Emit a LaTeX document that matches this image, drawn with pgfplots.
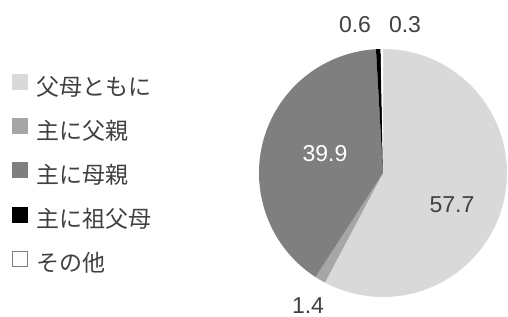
\documentclass[border=0pt]{standalone}
\usepackage{pgfplots}
\pgfplotsset{compat=1.18}
\usepackage{pgfplotstable}
\usepackage{fontspec}
\setmainfont{Liberation Sans}
\newfontfamily\jp{Noto Sans CJK JP}
\definecolor{cA}{HTML}{D9D9D9}
\definecolor{cB}{HTML}{A6A6A6}
\definecolor{cC}{HTML}{7F7F7F}
\definecolor{cD}{HTML}{000000}
\definecolor{cE}{HTML}{FFFFFF}
\definecolor{txt}{HTML}{404040}
\pgfplotstableread{
value color
57.7 cA
1.4 cB
39.9 cC
0.6 cD
0.3 cE
}\piedata
\begin{document}
\begin{tikzpicture}
\path[use as bounding box] (0,0) rectangle (508bp,317bp);
\pgfplotstablegetrowsof{\piedata}
\pgfmathtruncatemacro\lastrow{\pgfplotsretval-1}
\def\total{0}
\pgfplotsforeachungrouped \i in {0,...,\lastrow}{%
  \pgfplotstablegetelem{\i}{value}\of\piedata
  \pgfmathsetmacro\total{\total+\pgfplotsretval}}
\pgfmathsetmacro\degper{360/\total}
\begin{axis}[
  x=1bp, y=1bp, xmin=0, xmax=508, ymin=0, ymax=317,
  anchor=origin, at={(0,0)},
  hide axis, clip=false,
  legend cell align=left,
  legend image code/.code={\draw[#1] (0bp,1bp) rectangle (15bp,16bp);},
  legend style={at={(axis cs:12,243)}, anchor=north west, draw=none, fill=none,
    inner sep=0pt, outer sep=0pt, row sep=17bp, column sep=9bp,
    nodes={inner sep=0pt, text height=16bp, text depth=6bp,
      font=\jp\fontsize{23bp}{26bp}\selectfont, text=txt}},
]
\def\cum{0}
\pgfplotsforeachungrouped \i in {0,...,\lastrow}{%
  \pgfplotstablegetelem{\i}{value}\of\piedata \let\sliceval\pgfplotsretval
  \pgfplotstablegetelem{\i}{color}\of\piedata \let\slicecol\pgfplotsretval
  \pgfmathsetmacro\angA{90-\degper*\cum}
  \pgfmathsetmacro\angB{90-\degper*(\cum+\sliceval)}
  \pgfmathsetmacro\sx{383+124*cos(\angA)}
  \pgfmathsetmacro\sy{144+124*sin(\angA)}
  \edef\tmp{\noexpand\fill[\slicecol] (axis cs:383,144) -- (axis cs:\sx,\sy) arc[start angle=\angA, end angle=\angB, radius=124bp] -- cycle;}
  \tmp
  \pgfmathsetmacro\cum{\cum+\sliceval}
}
\addlegendimage{fill=cA, draw=cA}
\addlegendentry{父母ともに}
\addlegendimage{fill=cB, draw=cB}
\addlegendentry{主に父親}
\addlegendimage{fill=cC, draw=cC}
\addlegendentry{主に母親}
\addlegendimage{fill=cD, draw=cD}
\addlegendentry{主に祖父母}
\addlegendimage{fill=white, draw=gray}
\addlegendentry{その他}
\node[anchor=base, font=\fontsize{23bp}{26bp}\selectfont, text=txt, inner sep=0pt] at (axis cs:452,105) {57.7};
\node[anchor=base, font=\fontsize{23bp}{26bp}\selectfont, text=white, inner sep=0pt] at (axis cs:325,156) {39.9};
\node[anchor=base, font=\fontsize{23bp}{26bp}\selectfont, text=txt, inner sep=0pt] at (axis cs:308,3.5) {1.4};
\node[anchor=base, font=\fontsize{23bp}{26bp}\selectfont, text=txt, inner sep=0pt] at (axis cs:355,285) {0.6};
\node[anchor=base, font=\fontsize{23bp}{26bp}\selectfont, text=txt, inner sep=0pt] at (axis cs:405,285) {0.3};
\end{axis}
\end{tikzpicture}
\end{document}
